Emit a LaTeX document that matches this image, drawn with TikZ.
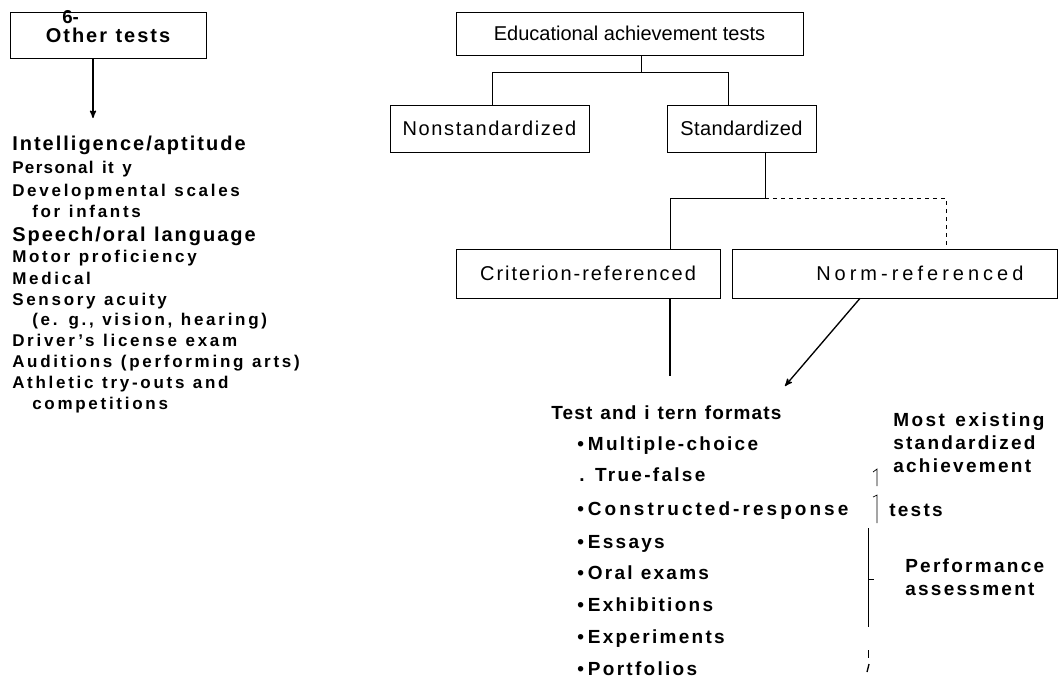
\documentclass[tikz,border=0pt]{standalone}
\usepackage{fontspec}
\setmainfont{Liberation Sans}
\usepackage{tikz}
\usetikzlibrary{arrows}

% tracking and word space
\newcommand{\trk}[2]{\addfontfeature{LetterSpace=#1}\spaceskip=#2em\relax}

\begin{document}
\begin{tikzpicture}[x=0.75pt,y=-0.75pt,>=stealth',
	box/.style={shape=rectangle,draw,line width=0.5pt,inner sep=0pt,
		font=\fontsize{15}{18}\selectfont\addfontfeature{LetterSpace=8}},
	big/.style={anchor=base west,inner sep=0pt,
		font=\fontsize{15}{18}\selectfont\bfseries\trk{10}{0.42}},
	small/.style={anchor=base west,inner sep=0pt,
		font=\fontsize{12.75}{15}\selectfont\bfseries\trk{16}{0.5}},
	fmt/.style={anchor=base west,inner sep=0pt,
		font=\fontsize{14.25}{17}\selectfont\bfseries\trk{12}{0.42}},
	link/.style={line width=0.5pt},
	arrowline/.style={->,line width=1pt}]
	\useasboundingbox (0,0) rectangle (1059,679);

	% left column
	\node (other) [box,minimum width=147pt,minimum height=34.5pt,
		font=\fontsize{15}{18}\selectfont\bfseries\trk{10}{0.42}] at (108,35) {\raisebox{-5pt}{Other tests}};
	\node (mark) [anchor=base west,inner sep=0pt,font=\fontsize{14}{16}\selectfont\bfseries] at (62,23) {6-};
	\node (intel) [big] at (12,150) {Intelligence/aptitude};
	\node (pers) [small,font=\fontsize{12.75}{15}\selectfont\bfseries\trk{8}{0.5}] at (12,173) {Personal it y};
	\node (devel) [small] at (12,196) {Developmental scales};
	\node (infants) [small] at (32,217) {for infants};
	\node (speech) [big] at (12,241) {Speech/oral language};
	\node (motor) [small] at (12,262) {Motor proficiency};
	\node (medical) [small] at (12,284) {Medical};
	\node (sensory) [small] at (12,305) {Sensory acuity};
	\node (vision) [small] at (32,325) {(e. g., vision, hearing)};
	\node (driver) [small] at (12,346) {Driver’s license exam};
	\node (audit) [small] at (12,367) {Auditions (performing arts)};
	\node (athl) [small] at (12,388) {Athletic try-outs and};
	\node (compet) [small] at (32,409) {competitions};

	% tree
	\node (edu) [box,minimum width=260.25pt,minimum height=32.25pt,
		font=\fontsize{15}{18}\selectfont] at (629.5,33.5) {Educational achievement tests};
	\node (nonstd) [box,minimum width=149.25pt,minimum height=35.25pt] at (489.5,128.5) {Nonstandardized};
	\node (std) [box,minimum width=111.75pt,minimum height=35.25pt,
		font=\fontsize{15}{18}\selectfont\addfontfeature{LetterSpace=2}] at (741.5,128.5) {Standardized};
	\node (crit) [box,minimum width=198pt,minimum height=36.75pt,
		font=\fontsize{15}{18}\selectfont\addfontfeature{LetterSpace=10}] at (588,273.5) {Criterion-referenced};
	\node (norm) [box,minimum width=243.75pt,minimum height=36.75pt,
		font=\fontsize{15}{18}\selectfont\addfontfeature{LetterSpace=20}] at (894.5,273.5) {\hspace*{38pt}Norm-referenced};

	% formats
	\node (formats) [fmt,font=\fontsize{14.25}{17}\selectfont\bfseries\trk{6}{0.42}] at (551,419) {Test and i tern formats};
	\node (mc) [fmt] at (577,450) {•\hspace{3pt}Multiple-choice};
	\node (tf) [fmt] at (579,481) {. True-false};
	\node (cr) [fmt,font=\fontsize{14.25}{17}\selectfont\bfseries\trk{16}{0.42}] at (577,515) {•\hspace{3pt}Constructed-response};
	\node (essays) [fmt] at (577,548) {•\hspace{3pt}Essays};
	\node (oral) [fmt] at (577,579) {•\hspace{3pt}Oral exams};
	\node (exhib) [fmt] at (577,611) {•\hspace{3pt}Exhibitions};
	\node (exper) [fmt] at (577,643) {•\hspace{3pt}Experiments};
	\node (portf) [fmt] at (577,675) {•\hspace{3pt}Portfolios};

	\node (most) [fmt,font=\fontsize{14.25}{17}\selectfont\bfseries\trk{13}{0.55}] at (893,426) {Most existing};
	\node (stdz) [fmt] at (893,449) {standardized};
	\node (achv) [fmt] at (893,472) {achievement};
	\node (tests) [fmt] at (889,516) {tests};
	\node (perf) [fmt] at (905,572) {Performance};
	\node (assess) [fmt] at (905,595) {assessment};

	% connectors
	\coordinate (othertip) at (93,118);
	\draw[arrowline] (other.south -| othertip) -- (othertip);

	\coordinate (j1) at (641,72);
	\coordinate (j1l) at (492,72);
	\coordinate (j1r) at (728,72);
	\draw[link] (edu.south -| j1) -- (j1);
	\draw[link] (nonstd.north -| j1l) -- (j1l) -- (j1r) -- (std.north -| j1r);

	\coordinate (j2) at (765,198);
	\coordinate (j2l) at (670,198);
	\coordinate (j2r) at (946,198);
	\draw[link] (std.south -| j2) -- (j2);
	\draw[link] (crit.north -| j2l) -- (j2l) -- (j2);
	\draw[link,dashed] (j2) -- (j2r) -- (norm.north -| j2r);

	\coordinate (critend) at (670,376);
	\draw[line width=1pt] (crit.south -| critend) -- (critend);
	\coordinate (normfrom) at (860,300);
	\coordinate (fmtin) at (785,386);
	\draw[arrowline] (norm.south -| normfrom) -- (fmtin);

	% brackets
	\draw[link] (873,472) -- (877,469) -- (877,486);
	\draw[link] (873,497) -- (877,495) -- (877,523);
	\draw[link] (868,528) -- (868,627);
	\draw[link] (868,579) -- (874,579);
	\draw[link] (868,650) -- (868,658);
	\draw[line width=1pt] (869,664) -- (867,672);
\end{tikzpicture}
\end{document}
